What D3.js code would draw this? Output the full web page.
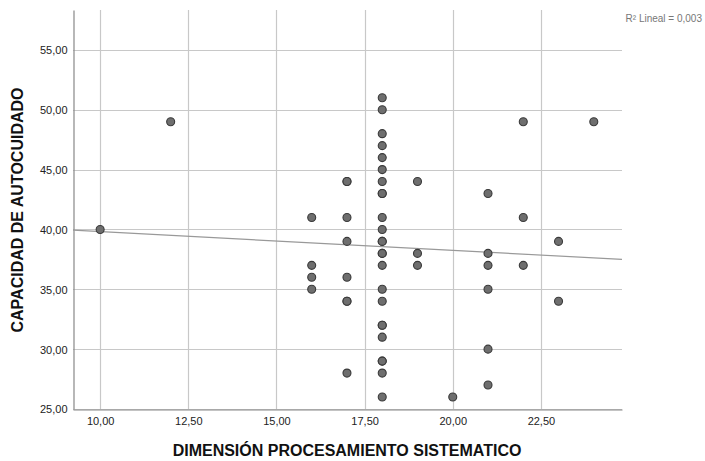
<!DOCTYPE html>
<html>
<head>
<meta charset="utf-8">
<script src="https://cdn.jsdelivr.net/npm/d3@7"></script>
<style>
  body { margin: 0; background: #fff; }
  svg { display: block; font-family: Arial, 'Liberation Sans', sans-serif; }
  .tick-label { font-size: 11px; fill: #222; }
  .axis-name { font-size: 16px; font-weight: bold; fill: #111; }
</style>
</head>
<body>
<div id="chart"></div>
<script>
// Chart size
const width = 705;
const height = 461;
const margin = { t: 10, r: 83, b: 52, l: 73 };

// Data, one entry per case
const procesamiento = [
  10,
  12,
  16, 16, 16, 16,
  17, 17, 17, 17, 17, 17, 17, 17,
  18, 18, 18, 18, 18, 18, 18, 18, 18, 18, 18, 18, 18, 18, 18, 18, 18, 18, 18, 18, 18, 18, 18, 18, 18,
  19, 19, 19,
  20,
  21, 21, 21, 21, 21, 21,
  22, 22, 22,
  23, 23,
  24,
];
const autocuidado = [
  40,
  49,
  41, 37, 36, 35,
  44, 44, 41, 39, 36, 34, 34, 28,
  51, 50, 48, 47, 46, 45, 44, 43, 43, 41, 40, 39, 39, 38, 38, 37, 35, 34, 32, 32, 31, 29, 29, 28, 26,
  44, 38, 37,
  26,
  43, 38, 37, 35, 30, 27,
  49, 41, 37,
  39, 34,
  49,
];
const xTicks = [10, 12.5, 15, 17.5, 20, 22.5];
const yTicks = [25, 30, 35, 40, 45, 50, 55];
const xDomain = [9.23, 24.8];
const yDomain = [25, 58.33];
// linear fit: intercept, slope
const fitLine = [41.39, -0.157];
const r2Label = 'R² Lineal = 0,003';

const fmt = (v) => d3.format('.2f')(v).replace('.', ',');

const svg = d3.select('#chart').append('svg').attr('width', width).attr('height', height);

const xScale = d3.scaleLinear().domain(xDomain).range([margin.l, width - margin.r]);
const yScale = d3.scaleLinear().domain(yDomain).range([height - margin.b, margin.t]);

// gridlines
svg.append('g')
  .selectAll('line')
  .data(yTicks)
  .join('line')
  .attr('x1', margin.l)
  .attr('x2', width - margin.r)
  .attr('y1', (d) => Math.round(yScale(d)) + 0.5)
  .attr('y2', (d) => Math.round(yScale(d)) + 0.5)
  .attr('stroke', '#c8c8c8')
  .attr('stroke-width', 1.2);

svg.append('g')
  .selectAll('line')
  .data(xTicks)
  .join('line')
  .attr('x1', (d) => Math.round(xScale(d)) + 0.5)
  .attr('x2', (d) => Math.round(xScale(d)) + 0.5)
  .attr('y1', margin.t)
  .attr('y2', height - margin.b)
  .attr('stroke', '#c8c8c8')
  .attr('stroke-width', 1.2);

// axes
const xAxis = svg.append('g')
  .attr('transform', `translate(0,${height - margin.b + 0.5})`)
  .call(d3.axisBottom(xScale).tickValues(xTicks).tickFormat(fmt).tickSize(0).tickPadding(8));
const yAxis = svg.append('g')
  .attr('transform', `translate(${margin.l + 0.5},0)`)
  .call(d3.axisLeft(yScale).tickValues(yTicks).tickFormat(fmt).tickSize(0).tickPadding(6));

[xAxis, yAxis].forEach((a) => {
  a.select('.domain').attr('stroke', '#888').attr('stroke-width', 1.2);
  a.selectAll('text').attr('class', 'tick-label').attr('font-family', null).attr('font-size', null);
});
yAxis.selectAll('text').attr('dy', '0.35em');

// fit line
svg.append('line')
  .attr('x1', xScale(xDomain[0]))
  .attr('x2', xScale(xDomain[1]))
  .attr('y1', yScale(fitLine[0] + fitLine[1] * xDomain[0]))
  .attr('y2', yScale(fitLine[0] + fitLine[1] * xDomain[1]))
  .attr('stroke', '#999')
  .attr('stroke-width', 1.2);

// points
svg.append('g')
  .selectAll('circle')
  .data(procesamiento)
  .join('circle')
  .attr('cx', (d) => xScale(d))
  .attr('cy', (d, i) => yScale(autocuidado[i]))
  .attr('r', 4)
  .attr('fill', '#6e6e6e')
  .attr('stroke', '#3a3a3a')
  .attr('stroke-width', 1.1);

// axis names
svg.append('text')
  .attr('class', 'axis-name')
  .attr('text-anchor', 'middle')
  .attr('transform', `translate(347, 456)`)
  .text('DIMENSIÓN PROCESAMIENTO SISTEMATICO');
svg.append('text')
  .attr('class', 'axis-name')
  .attr('text-anchor', 'middle')
  .attr('transform', `translate(23, 210) rotate(-90)`)
  .text('CAPACIDAD DE AUTOCUIDADO');

// R² label
svg.append('text')
  .attr('x', 702)
  .attr('y', 22)
  .attr('text-anchor', 'end')
  .attr('font-size', '10px')
  .attr('fill', '#777')
  .text(r2Label);
</script>
</body>
</html>
